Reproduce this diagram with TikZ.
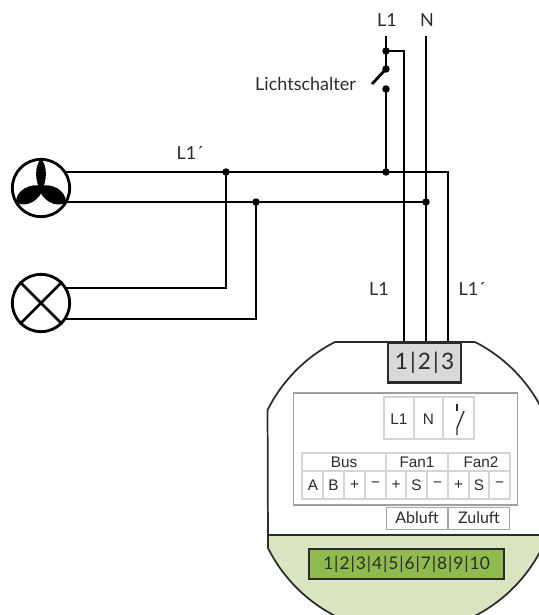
\documentclass[tikz,border=0pt]{standalone}
\usepackage{fontspec}
\usetikzlibrary{calc}
\setmainfont{Lato}
\newfontfamily\tablefont{Liberation Sans}
\definecolor{ink}{HTML}{2B2B2B}
\definecolor{grn}{HTML}{D9E5C0}
\definecolor{grnbox}{HTML}{8FBA4E}
\definecolor{tbl}{HTML}{D5D5D5}
\newcommand{\pipebar}{\hspace{1.6pt}|\hspace{1.6pt}}
\newcommand{\stripbar}{\hspace{0.7pt}|\hspace{0.7pt}}
\tikzset{
  wire/.style={line width=2.1pt,black},
  housing/.style={line width=1.3pt,draw=ink},
  junction/.style={circle,fill=black,inner sep=0pt,minimum size=5.6pt},
  lbl/.style={text=ink,font=\fontsize{13.5}{15}\selectfont,inner sep=0pt},
  tlbl/.style={text=ink,font=\tablefont\fontsize{11.5}{13}\selectfont,inner sep=0pt},
  symbolring/.style={circle,draw=black,line width=2.1pt,fill=white,minimum size=43pt,inner sep=0pt},
  grid/.style={draw=tbl,line width=0.8pt},
  tag/.style={draw=gray!70,line width=0.7pt,fill=white,text=ink,font=\fontsize{12}{14}\selectfont,minimum width=46pt,minimum height=16.5pt},
}
\begin{document}
\begin{tikzpicture}[x=0.75pt,y=-0.75pt]
\useasboundingbox (0,0) rectangle (539,615);
% housing
\begin{scope}
\clip (0,0) rectangle (539,615);
\fill[grn] (268,535) -- (268,548) arc[start angle=-206.5,end angle=-243,radius=153] -- (475,615) arc[start angle=63,end angle=26.5,radius=153] -- (560,535) -- cycle;
\draw[housing] (475,342) -- (335,342) arc[start angle=-117,end angle=-153.5,radius=153] -- (268,548) arc[start angle=-206.5,end angle=-243,radius=153];
\draw[housing] (475,342) arc[start angle=-63,end angle=-26.5,radius=153] -- (542,548) arc[start angle=26.5,end angle=63,radius=153];
\draw[housing] (268,535) -- (542,535);
\end{scope}
% coordinates
\coordinate (topL) at (386,36);
\coordinate (topN) at (426,36);
\coordinate (swOut) at (386,51);
\coordinate (swA) at (386,69);
\coordinate (swB) at (386,89);
\coordinate (bladeEnd) at (372,84);
\coordinate (branch) at (404,51);
\coordinate (jL) at (386,172);
\coordinate (jN) at (426,202);
\coordinate (jA) at (226,172);
\coordinate (jB) at (256,202);
\coordinate (corner) at (448,172);
\coordinate (t1) at (404,342);
\coordinate (t2) at (426,342);
\coordinate (t3) at (448,342);
\coordinate (fanTop) at (60,172);
\coordinate (fanBot) at (60,202);
\coordinate (lampTop) at (60,288);
\coordinate (lampBot) at (60,319);
% wires
\draw[wire] (topL) -- (swA);
\draw[wire] (swB) -- (jL);
\draw[wire] (swA) -- (bladeEnd);
\draw[wire] (swOut) -- (branch) -- (t1);
\draw[wire] (topN) -- (t2);
\draw[wire] (fanTop) -- (corner) -- (t3);
\draw[wire] (fanBot) -- (jN);
\draw[wire] (jA) |- (lampTop);
\draw[wire] (jB) |- (lampBot);
% junctions
\foreach \p in {swOut,swA,swB,jL,jN,jA,jB}{\node[junction] at (\p) {};}
% fan
\node[symbolring] (fan) at (41,188) {};
\foreach \a/\w in {0/6.5,120/10.5,240/10.5}{
  \fill[black,rotate around={\a:(41,188)}]
    (41,191) .. controls (41-\w,182) and (41-\w,165) .. (41,159)
    .. controls (41+\w,165) and (41+\w,182) .. (41,191) -- cycle;
}
% lamp
\node[symbolring] (lamp) at (41,303) {};
\draw[line width=2.1pt] (lamp.45) -- (lamp.225);
\draw[line width=2.1pt] (lamp.135) -- (lamp.315);
% labels
\node[lbl] (lL1) at (387,20) {L1};
\node[lbl] (lN) at (427,20) {N};
\node[lbl] (lSw) at (305.5,84) {Lichtschalter};
\node[lbl] (lL1p) at (190,153) {L1´};
\node[lbl] (lL1b) at (379,289) {L1};
\node[lbl] (lL1c) at (472,289) {L1´};
% terminal
\node[draw=ink,line width=1.6pt,fill=gray!30,minimum width=55pt,minimum height=30pt,inner sep=0pt,text=ink,font=\fontsize{17}{19}\selectfont] (term) at (424.5,362.5) {1\pipebar 2\pipebar 3};
% inner panel
\node[draw=gray!75,line width=1.3pt,fill=white,minimum width=168pt,minimum height=83.5pt,inner sep=0pt] (panel) at (405.5,449) {};
% upper table
\draw[grid] (384,397) rectangle (474,439);
\draw[grid] (414,397) -- (414,439);
\draw[grid] (443,397) -- (443,439);
\node[tlbl] (tL1) at (399,419) {L1};
\node[tlbl] (tN) at (428.5,419) {N};
\draw[line width=1pt,ink] (457,404) -- (457,411);
\draw[line width=1pt,ink] (464,411) -- (457,428) -- (457,435);
% lower table
\draw[grid] (302,453) rectangle (510,499);
\draw[grid] (302,471) -- (510,471);
\foreach \x in {386,448}{\draw[grid] (\x,453) -- (\x,499);}
\foreach \x in {323,344,365,406,427,469,489}{\draw[grid] (\x,471) -- (\x,499);}
\node[tlbl] (hBus) at (344,462) {Bus};
\node[tlbl] (hF1) at (417,462) {Fan1};
\node[tlbl] (hF2) at (481,462) {Fan2};
\foreach \x/\t/\n in {313/A/a,333.5/B/b,354.5/+/c,375.5/−/d,396/+/e,416.5/S/f,437.5/−/g,458.5/+/h,479/S/i,499.5/−/j}{
  \node[tlbl] (cell\n) at (\x,485) {\t};
}
% tags
\node[tag,inner sep=0pt] (abl) at (417,518) {Abluft};
\node[tag,inner sep=0pt] (zul) at (479,518) {Zuluft};
% green strip
\node[draw=ink,line width=1.7pt,fill=grnbox,minimum width=146pt,minimum height=22.5pt,inner sep=0pt,text=ink,font=\fontsize{13}{15}\selectfont] (strip) at (406.5,564) {1\stripbar 2\stripbar 3\stripbar 4\stripbar 5\stripbar 6\stripbar 7\stripbar 8\stripbar 9\stripbar 10};
\end{tikzpicture}
\end{document}
